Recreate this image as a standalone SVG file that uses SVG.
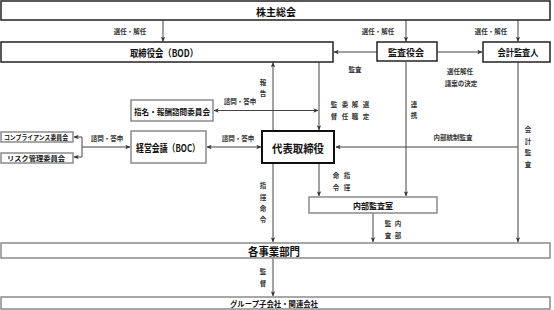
<svg xmlns="http://www.w3.org/2000/svg" width="554" height="310" viewBox="0 0 554 310">
<style>
text{font-family:"Noto Sans CJK JP","Noto Sans CJK SC",sans-serif;fill:#111;text-anchor:middle;dominant-baseline:central}
.b{font-weight:bold}
.lb{font-size:6.5px;font-weight:bold;fill:#333}
.bk{fill:#fff;stroke:#222;stroke-width:1.5}
.gr{fill:#fff;stroke:#8a8a8a;stroke-width:1.5}
.th{fill:#fff;stroke:#111;stroke-width:2}
.ln{fill:none;stroke:#444;stroke-width:1}
</style>
<defs>
<marker id="ah" viewBox="0 0 8 8" refX="7.5" refY="4" markerWidth="5" markerHeight="5" orient="auto-start-reverse" markerUnits="userSpaceOnUse">
<path d="M0,0.5 L8,4 L0,7.5 L2,4 z" fill="#333"/>
</marker>
</defs>
<rect width="554" height="310" fill="#fff"/>

<g id="connectors" class="ln">
<line x1="163" y1="20" x2="163" y2="41.5" marker-end="url(#ah)"/>
<line x1="406" y1="20" x2="406" y2="41.5" marker-end="url(#ah)"/>
<line x1="518" y1="20" x2="518" y2="41.5" marker-end="url(#ah)"/>
<line x1="377" y1="52" x2="334" y2="52" marker-end="url(#ah)"/>
<line x1="437" y1="52" x2="482" y2="52" marker-end="url(#ah)"/>
<line x1="273" y1="131" x2="273" y2="62.5" marker-end="url(#ah)"/>
<line x1="319" y1="62" x2="319" y2="130" marker-end="url(#ah)"/>
<line x1="214" y1="110.5" x2="318" y2="110.5" marker-start="url(#ah)" marker-end="url(#ah)"/>
<line x1="207" y1="147" x2="261" y2="147" marker-start="url(#ah)" marker-end="url(#ah)"/>
<polyline points="74,137 82,137 82,157 74,157" marker-start="url(#ah)" marker-end="url(#ah)"/>
<line x1="82" y1="147" x2="130" y2="147" marker-end="url(#ah)"/>
<line x1="518" y1="147" x2="336" y2="147" marker-end="url(#ah)"/>
<line x1="518" y1="62" x2="518" y2="242" marker-end="url(#ah)"/>
<line x1="406" y1="62" x2="406" y2="196" marker-end="url(#ah)"/>
<line x1="319" y1="163" x2="319" y2="196" marker-end="url(#ah)"/>
<line x1="273" y1="163" x2="273" y2="242" marker-end="url(#ah)"/>
<line x1="373" y1="213" x2="373" y2="242" marker-end="url(#ah)"/>
<line x1="273" y1="258" x2="273" y2="296" marker-end="url(#ah)"/>
</g>

<g id="shareholders">
<rect class="bk" x="1" y="1" width="549" height="19"/>
<text class="b" x="276" y="11" font-size="10">株主総会</text>
</g>
<g id="bod">
<rect class="bk" x="1" y="42" width="332" height="20"/>
<text class="b" x="164" y="52.5" font-size="10" textLength="68" lengthAdjust="spacingAndGlyphs">取締役会（BOD）</text>
</g>
<g id="kansayakukai">
<rect class="bk" x="377" y="42" width="60" height="19"/>
<text class="b" x="406" y="52" font-size="9">監査役会</text>
</g>
<g id="kaikei">
<rect class="bk" x="483" y="42" width="67" height="20"/>
<text class="b" x="518" y="52.5" font-size="9" textLength="41" lengthAdjust="spacingAndGlyphs">会計監査人</text>
</g>
<g id="shimei">
<rect class="gr" x="131" y="100" width="82" height="21"/>
<text class="b" x="172" y="111" font-size="8" textLength="76" lengthAdjust="spacingAndGlyphs">指名・報酬諮問委員会</text>
</g>
<g id="boc">
<rect class="gr" x="131" y="131" width="75" height="32"/>
<text class="b" x="168" y="147.5" font-size="10" textLength="64" lengthAdjust="spacingAndGlyphs">経営会議（BOC）</text>
</g>
<g id="compliance">
<rect class="gr" x="1" y="132" width="72" height="10"/>
<text class="b" x="36" y="137.3" font-size="6.5" textLength="64" lengthAdjust="spacingAndGlyphs">コンプライアンス委員会</text>
</g>
<g id="risk">
<rect class="gr" x="1" y="153" width="72" height="10"/>
<text class="b" x="36" y="158.3" font-size="6.5" textLength="58" lengthAdjust="spacingAndGlyphs">リスク管理委員会</text>
</g>
<g id="ceo">
<rect class="th" x="262" y="131" width="72" height="32"/>
<text class="b" x="298" y="147.5" font-size="11.5" textLength="52" lengthAdjust="spacingAndGlyphs">代表取締役</text>
</g>
<g id="audit">
<rect class="gr" x="309" y="197" width="128" height="16"/>
<text class="b" x="373" y="205" font-size="8.5" textLength="40" lengthAdjust="spacingAndGlyphs">内部監査室</text>
</g>
<g id="divisions">
<rect class="gr" x="1" y="243" width="549" height="15"/>
<text class="b" x="274" y="251" font-size="11" textLength="52" lengthAdjust="spacingAndGlyphs">各事業部門</text>
</g>
<g id="group">
<rect class="gr" x="1" y="297" width="549" height="12"/>
<text class="b" x="274" y="303" font-size="7.5" textLength="88" lengthAdjust="spacingAndGlyphs">グループ子会社・関連会社</text>
</g>

<g id="labels" class="lb">
<text class="lb" x="130" y="31">選任・解任</text>
<text class="lb" x="378" y="31">選任・解任</text>
<text class="lb" x="491" y="31">選任・解任</text>
<text class="lb" x="355" y="69">監査</text>
<text class="lb" x="460" y="71">選任解任</text>
<text class="lb" x="461" y="83">議案の決定</text>
<text class="lb" x="263" y="82">報</text>
<text class="lb" x="263" y="93">告</text>
<text class="lb" x="240" y="101">諮問・答申</text>
<text class="lb" x="334" y="104">監</text><text class="lb" x="334" y="116">督</text>
<text class="lb" x="345" y="104">委</text><text class="lb" x="345" y="116">任</text>
<text class="lb" x="355" y="104">解</text><text class="lb" x="355" y="116">職</text>
<text class="lb" x="366" y="104">選</text><text class="lb" x="366" y="116">定</text>
<text class="lb" x="414" y="104">連</text><text class="lb" x="414" y="115">携</text>
<text class="lb" x="238" y="138">諮問・答申</text>
<text class="lb" x="107" y="138">諮問・答申</text>
<text class="lb" x="453" y="137">内部統制監査</text>
<text class="lb" x="528" y="129">会</text>
<text class="lb" x="528" y="141">計</text>
<text class="lb" x="528" y="152">監</text>
<text class="lb" x="528" y="164">査</text>
<text class="lb" x="263" y="185">指</text>
<text class="lb" x="263" y="197">揮</text>
<text class="lb" x="263" y="208">命</text>
<text class="lb" x="263" y="219">令</text>
<text class="lb" x="336" y="175">命</text><text class="lb" x="336" y="187">令</text>
<text class="lb" x="347" y="175">指</text><text class="lb" x="347" y="187">揮</text>
<text class="lb" x="388" y="223">監</text><text class="lb" x="388" y="235">査</text>
<text class="lb" x="398" y="223">内</text><text class="lb" x="398" y="235">部</text>
<text class="lb" x="263" y="271">監</text>
<text class="lb" x="263" y="283">督</text>
</g>
</svg>
